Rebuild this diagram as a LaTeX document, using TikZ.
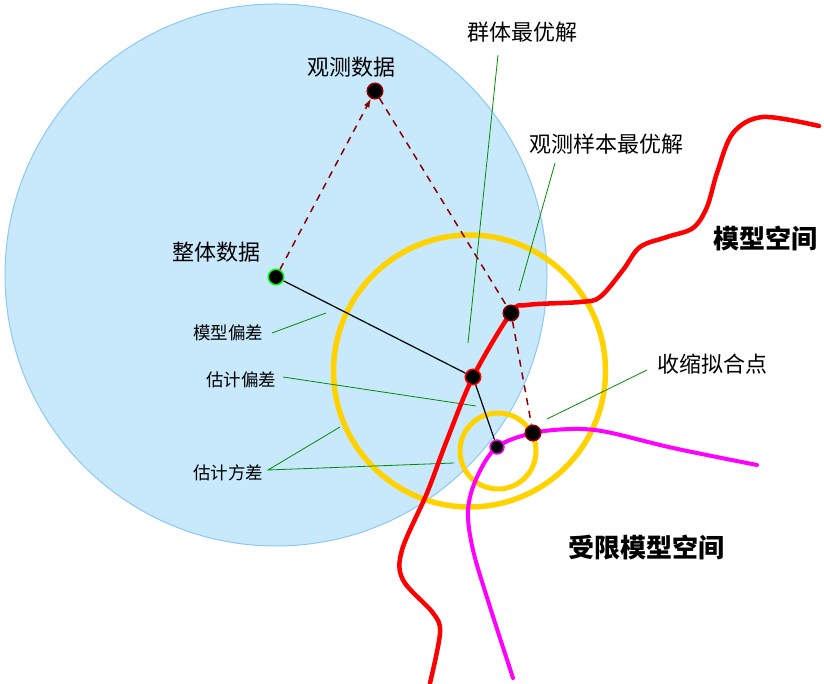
\documentclass[tikz,border=0pt]{standalone}
\usepackage{fontspec}
\newfontfamily\cjk{Noto Sans CJK SC}
\usetikzlibrary{arrows.meta}
\definecolor{skyfill}{RGB}{200,232,252}
\definecolor{skyline}{RGB}{140,200,245}
\definecolor{goldring}{RGB}{255,210,0}
\definecolor{darkred}{RGB}{139,0,0}
\definecolor{leadgreen}{RGB}{0,140,0}
\definecolor{pureMagenta}{RGB}{255,0,255}
\definecolor{pureRed}{RGB}{255,0,0}
\definecolor{pureGreen}{RGB}{0,255,0}
\begin{document}
\begin{tikzpicture}[x=1pt,y=-1pt,
  dot/.style={circle,fill=black,draw=#1,line width=1.5pt,minimum size=15.5pt,inner sep=0pt},
  lbl/.style={font=\cjk\fontsize{22}{26}\selectfont,inner sep=0pt},
  slbl/.style={font=\cjk\fontsize{17.5}{21}\selectfont,inner sep=0pt},
  blbl/.style={font=\cjk\bfseries\fontsize{26}{31}\selectfont,inner sep=0pt},
  lead/.style={draw=leadgreen,line width=0.8pt},
  ring/.style={draw=goldring,line width=5.5pt},
  dash line/.style={draw=darkred,line width=1.5pt,dash pattern=on 7pt off 6pt},
  curve/.style={line width=4.5pt,line cap=round,smooth,tension=0.55}]
\useasboundingbox (0,0) rectangle (824,684);
% big blue region
\fill[skyfill] (276,275) circle[radius=271pt];
\draw[skyline,line width=1pt] (276,275) circle[radius=271pt];
% yellow rings
\draw[ring] (469.5,371) circle[radius=136pt];
\draw[ring,line width=5pt] (498,451) circle[radius=38pt];
% leader coordinates
\coordinate (l1a) at (498,55);  \coordinate (l1b) at (468,343);
\coordinate (l2a) at (555,163); \coordinate (l2b) at (519,291);
\coordinate (l3a) at (272,333); \coordinate (l3b) at (326,313);
\coordinate (l4a) at (283,377); \coordinate (l4b) at (476,406);
\coordinate (l5a) at (268,470); \coordinate (l5b) at (340,427); \coordinate (l5c) at (454,463);
\coordinate (l6a) at (647,370); \coordinate (l6b) at (547,419);
\draw[lead] (l1a) -- (l1b);
\draw[lead] (l2a) -- (l2b);
\draw[lead] (l3a) -- (l3b);
\draw[lead] (l4a) -- (l4b);
\draw[lead] (l5b) -- (l5a) -- (l5c);
\draw[lead] (l6a) -- (l6b);
% curves
\draw[pureRed,curve] plot coordinates {(819,126) (763,117) (733,133) (717,173) (707,207) (693,228) (667,237) (640,247) (623,270) (600,297) (580,302) (527,305) (511,313) (473,377) (447,440) (427,493) (402,550) (403,580) (433,613) (440,633) (430,683)};
\draw[pureMagenta,curve,line width=4pt] plot coordinates {(757,465) (673,448) (607,432) (573,429) (533,433) (497,447) (477,477) (468,510) (473,550) (490,607) (513,678)};
% dots
\node[dot=darkred] (obs) at (375,91) {};
\node[dot=pureGreen] (whole) at (276,277) {};
\node[dot=darkred] (sopt) at (511,313) {};
\node[dot=pureRed] (popt) at (473,377) {};
\node[dot=pureMagenta,minimum size=14pt] (mdot) at (497,447) {};
\node[dot=darkred] (shrink) at (533,433) {};
% connectors
\draw[line width=1.2pt] (whole) -- (popt) -- (mdot);
\draw[dash line,-{Latex[length=9pt,width=6pt]}] (whole) -- (obs);
\draw[dash line] (obs) -- (sopt) -- (shrink);
% labels
\node[lbl] (tobs) at (351,67) {观测数据};
\node[lbl] (tpopt) at (522,32) {群体最优解};
\node[lbl] (tsopt) at (606,144) {观测样本最优解};
\node[lbl] (twhole) at (216,252) {整体数据};
\node[slbl] (tmb) at (228,333) {模型偏差};
\node[slbl] (teb) at (241,380) {估计偏差};
\node[slbl] (tev) at (228,473) {估计方差};
\node[lbl] (tshrink) at (712,364) {收缩拟合点};
\node[blbl] (tms) at (765,238) {模型空间};
\node[blbl] (trms) at (646,548) {受限模型空间};
\end{tikzpicture}
\end{document}
